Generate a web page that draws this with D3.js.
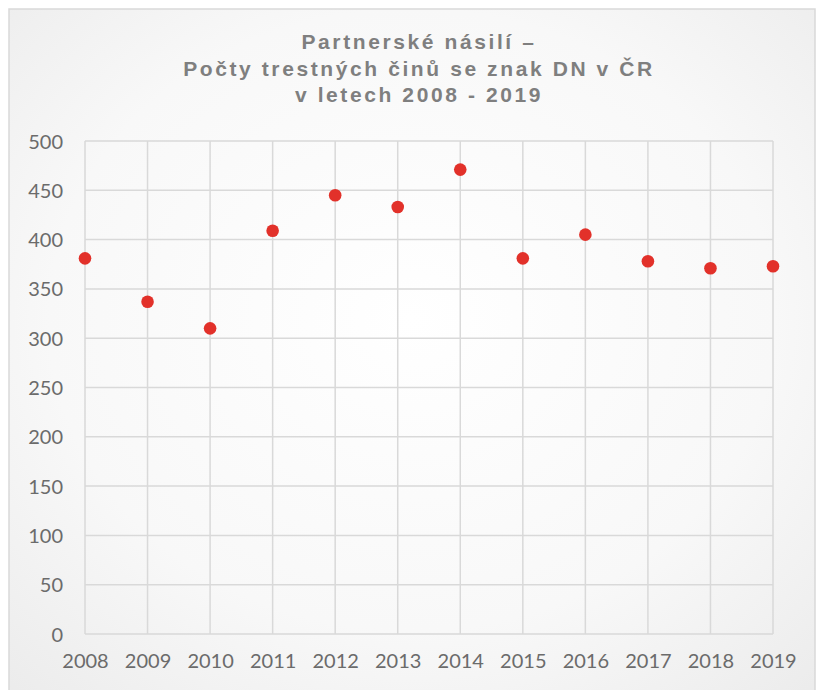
<!DOCTYPE html>
<html>
<head>
<meta charset="utf-8">
<script src="https://cdn.jsdelivr.net/npm/d3@7"></script>
<style>
  body { margin: 0; background: #fff; }
  .tickText { font-family: Lato, "Open Sans", sans-serif; font-size: 20px; fill: #6b6b6b; }
  .chartTitle { font-family: "Liberation Sans", Arial, sans-serif; font-weight: bold; font-size: 21px; fill: #7f7f7f; letter-spacing: 2.6px; }
</style>
</head>
<body>
<svg id="chart" width="820" height="690"></svg>
<script>
const years = [2008, 2009, 2010, 2011, 2012, 2013, 2014, 2015, 2016, 2017, 2018, 2019];
const counts = [381, 337, 310, 409, 445, 433, 471, 381, 405, 378, 371, 373];
const yTicks = [0, 50, 100, 150, 200, 250, 300, 350, 400, 450, 500];
const titleLines = ["Partnerské násilí –", "Počty trestných činů se znak DN v ČR", "v letech 2008 - 2019"];

const plotLeft = 85;
const plotRight = 773;
const plotTop = 141;
const plotBottom = 634;

let svg = d3.select("#chart");

// background with soft radial shading
let defs = svg.append("defs");
let grad = defs.append("radialGradient").attr("id", "bgGrad")
  .attr("cx", "50%").attr("cy", "45%").attr("r", "75%");
grad.append("stop").attr("offset", "0%").attr("stop-color", "#ffffff");
grad.append("stop").attr("offset", "60%").attr("stop-color", "#f8f8f8");
grad.append("stop").attr("offset", "100%").attr("stop-color", "#ebebeb");

svg.append("rect")
  .attr("x", 9).attr("y", 9)
  .attr("width", 806).attr("height", 690)
  .attr("fill", "url(#bgGrad)")
  .attr("stroke", "#d9d9d9")
  .attr("stroke-width", 1.5);

const x = d3.scalePoint().domain(years).range([plotLeft, plotRight]);
const y = d3.scaleLinear().domain([0, 500]).range([plotBottom, plotTop]);

// grid
svg.append("g").selectAll("line")
  .data(yTicks)
  .join("line")
  .attr("x1", plotLeft).attr("x2", plotRight)
  .attr("y1", d => y(d)).attr("y2", d => y(d))
  .attr("stroke", "#d9d9d9").attr("stroke-width", 1.5);

svg.append("g").selectAll("line")
  .data(years)
  .join("line")
  .attr("x1", d => x(d)).attr("x2", d => x(d))
  .attr("y1", plotTop).attr("y2", plotBottom)
  .attr("stroke", "#d9d9d9").attr("stroke-width", 1.5);

// axes
let yAxis = svg.append("g")
  .attr("transform", "translate(" + (plotLeft - 22) + ",0)")
  .call(d3.axisLeft(y).tickValues(yTicks).tickSize(0).tickPadding(0));
yAxis.select(".domain").remove();
yAxis.selectAll("text").attr("class", "tickText").attr("dy", "0.35em");

let xAxis = svg.append("g")
  .attr("transform", "translate(0," + (plotBottom + 18) + ")")
  .call(d3.axisBottom(x).tickFormat(d3.format("d")).tickSize(0).tickPadding(0));
xAxis.select(".domain").remove();
xAxis.selectAll("text").attr("class", "tickText").attr("dy", "0.8em");

// points
svg.append("g").selectAll("circle")
  .data(years)
  .join("circle")
  .attr("cx", d => x(d))
  .attr("cy", (d, i) => y(counts[i]))
  .attr("r", 6.3)
  .attr("fill", "#e2312a");

// title
svg.append("g").selectAll("text")
  .data(titleLines)
  .join("text")
  .attr("class", "chartTitle")
  .attr("x", 419)
  .attr("y", (d, i) => 49 + i * 26.5)
  .attr("text-anchor", "middle")
  .text(d => d);
</script>
</body>
</html>
